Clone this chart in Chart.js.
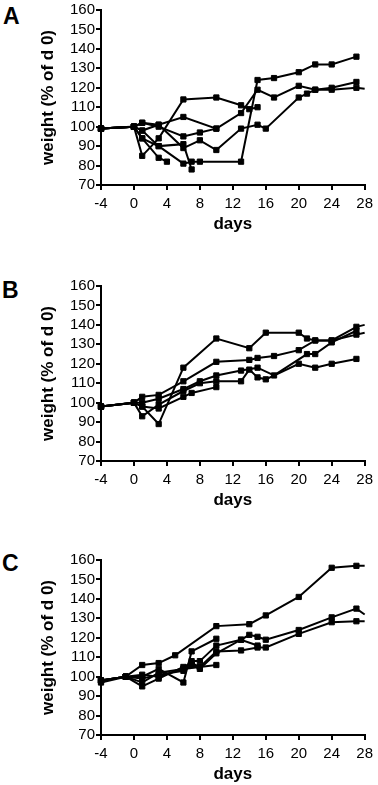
<!DOCTYPE html>
<html>
<head>
<meta charset="utf-8">
<script src="https://cdn.jsdelivr.net/npm/chart.js@4.4.1/dist/chart.umd.min.js"></script>
<style>
  html, body { margin: 0; padding: 0; background: #fff; overflow: hidden; }
  body { width: 378px; height: 785px; position: relative; font-family: "Liberation Sans", Arial, sans-serif; }
  .panel { position: absolute; left: 0; width: 378px; height: 235px; }
  .letter { position: absolute; font-weight: bold; font-size: 23px; line-height: 23px; color: #000; }
</style>
</head>
<body>
<div class="letter" style="left:3px; top:5px;">A</div>
<div class="letter" style="left:2px; top:279px;">B</div>
<div class="letter" style="left:2px; top:552px;">C</div>
<div class="panel" style="top:0px;"><canvas id="cA" width="378" height="235"></canvas></div>
<div class="panel" style="top:276px;"><canvas id="cB" width="378" height="235"></canvas></div>
<div class="panel" style="top:550px;"><canvas id="cC" width="378" height="235"></canvas></div>
<script>
// ---- Tick labels / axis text ----
const xTicks = [-4, 0, 4, 8, 12, 16, 20, 24, 28];
const yTicks = [70, 80, 90, 100, 110, 120, 130, 140, 150, 160];
const xTitle = 'days';
const yTitle = 'weight (% of d 0)';

// ---- Panel A ----
const A1_days = [-4, 0, 1, 3, 6, 7, 8, 13, 15, 17, 20, 22, 24, 27];
const A1_wt   = [99, 100, 98, 90, 81, 82, 82, 82, 124, 125, 128, 132, 132, 136];
const A2_days = [-4, 0, 1, 3, 6, 10, 13, 15, 17, 20, 22, 24, 27];
const A2_wt   = [99, 100, 102, 101, 105, 99, 107, 119, 115, 121, 119, 120, 123];
const A3_days = [-4, 0, 1, 3, 6, 8, 10, 13, 15, 16, 20, 21, 22, 24, 27, 28];
const A3_wt   = [99, 100, 98, 101, 89, 93, 88, 99, 101, 99, 115, 117, 119, 119, 120, 119.5];
const A4_days = [-4, 0, 1, 3, 6, 10, 13, 14, 15];
const A4_wt   = [99, 100, 85, 94, 114, 115, 111, 109, 110];
const A5_days = [-4, 0, 1, 3, 6, 8, 10];
const A5_wt   = [99, 100, 102, 100, 95, 97, 99];
const A6_days = [-4, 0, 1, 3, 6, 7];
const A6_wt   = [99, 100, 94, 90, 91, 78];
const A7_days = [-4, 0, 1, 3, 4];
const A7_wt   = [99, 100, 94, 84, 82];

// ---- Panel B ----
const B1_days = [-4, 0, 1, 3, 6, 10, 14, 16, 20, 21, 22, 24, 27, 28];
const B1_wt   = [98, 100, 98, 89, 118, 133, 128, 136, 136, 133, 132, 132, 135, 136];
const B2_days = [-4, 0, 1, 3, 6, 10, 14, 15, 17, 20, 22, 24, 27, 28];
const B2_wt   = [98, 100, 103, 104, 111, 121, 122, 123, 124, 127, 132, 132, 139, 140];
const B3_days = [-4, 0, 1, 3, 6, 8, 10, 13, 15, 17, 21, 22, 24, 27];
const B3_wt   = [98, 100, 100, 102, 107, 111, 114, 116.5, 118, 114, 125, 125, 131, 137];
const B4_days = [-4, 0, 1, 3, 6, 8, 10, 13, 14, 15, 16, 20, 22, 24, 27];
const B4_wt   = [98, 100, 93, 99, 106, 110, 111, 111, 117, 113, 112, 120, 118, 120, 122.5];
const B5_days = [-4, 0, 1, 3, 6, 7, 10];
const B5_wt   = [98, 100, 98, 97, 103, 105, 108];

// ---- Panel C ----
const C1_days = [-4, -1, 1, 3, 5, 10, 14, 16, 20, 24, 27, 28];
const C1_wt   = [98, 100, 106, 107, 111, 126, 127, 131.5, 141, 156, 157, 157];
const C2_days = [-4, -1, 1, 3, 6, 7, 8, 10, 13, 14, 15, 16, 20, 24, 27, 28];
const C2_wt   = [98, 100, 97, 102, 104, 108, 108, 116, 119, 121.5, 120.5, 119, 124, 130.5, 135, 132];
const C3_days = [-4, -1, 1, 3, 6, 7, 8, 10, 13, 15, 16, 20, 24, 27, 28];
const C3_wt   = [97, 100, 95, 99, 105, 107, 105, 113, 113.5, 115, 115, 122, 128, 128.5, 128.5];
const C4_days = [-4, -1, 1, 3, 6, 7, 10];
const C4_wt   = [98, 100, 100, 104, 97, 113, 119.5];
const C5_days = [-4, -1, 1, 3, 6, 7, 8, 10, 13, 15];
const C5_wt   = [98, 100, 99, 101, 103, 106, 104, 112, 119, 116];
const C6_days = [-4, -1, 1, 3, 6, 8, 10];
const C6_wt   = [98, 100, 101, 100, 104, 105, 106];

const panels = {
  cA: [[A1_days, A1_wt], [A2_days, A2_wt], [A3_days, A3_wt], [A4_days, A4_wt], [A5_days, A5_wt], [A6_days, A6_wt], [A7_days, A7_wt]],
  cB: [[B1_days, B1_wt], [B2_days, B2_wt], [B3_days, B3_wt], [B4_days, B4_wt], [B5_days, B5_wt]],
  cC: [[C1_days, C1_wt], [C2_days, C2_wt], [C3_days, C3_wt], [C4_days, C4_wt], [C5_days, C5_wt], [C6_days, C6_wt]]
};

const FONT = '"Liberation Sans", Arial, Helvetica, sans-serif';
const xMax = xTicks[xTicks.length - 1];

function makeChart(id, series) {
  const datasets = series.map(([d, w]) => ({
    data: d.map((x, i) => ({ x: x, y: w[i] })),
    borderColor: '#000',
    borderWidth: 2,
    backgroundColor: '#000',
    pointStyle: 'rect',
    pointRadius: ctx => (ctx.raw && ctx.raw.x >= xMax) ? 0 : 3.7,
    pointBorderWidth: 1,
    pointBorderColor: '#000',
    pointBackgroundColor: '#000',
    tension: 0,
    fill: false,
    clip: false
  }));
  new Chart(document.getElementById(id), {
    type: 'line',
    data: { datasets },
    options: {
      responsive: false,
      animation: false,
      events: [],
      layout: { padding: { left: 0, right: 12, top: 9, bottom: 0 } },
      plugins: { legend: { display: false }, tooltip: { enabled: false } },
      scales: {
        x: {
          type: 'linear',
          min: xTicks[0], max: xMax,
          afterBuildTicks: s => { s.ticks = xTicks.map(v => ({ value: v })); },
          ticks: { font: { family: FONT, size: 15 }, color: '#000', padding: 5, maxRotation: 0, autoSkip: false },
          grid: { drawOnChartArea: false, drawTicks: true, tickLength: 5, color: '#000', lineWidth: 2 },
          border: { display: true, color: '#000', width: 2 },
          title: { display: true, text: xTitle, color: '#000', font: { family: FONT, size: 17, weight: 'bold' }, padding: { top: 0, bottom: 0 } },
          afterFit: s => { s.height = 50; }
        },
        y: {
          type: 'linear',
          min: yTicks[0], max: yTicks[yTicks.length - 1],
          afterBuildTicks: s => { s.ticks = yTicks.map(v => ({ value: v })); },
          ticks: { font: { family: FONT, size: 15 }, color: '#000', padding: 1, autoSkip: false },
          grid: { drawOnChartArea: false, drawTicks: true, tickLength: 5, color: '#000', lineWidth: 2 },
          border: { display: true, color: '#000', width: 2 },
          title: { display: true, text: yTitle, color: '#000', font: { family: FONT, size: 17, weight: 'bold' }, padding: { top: 38, bottom: 0 } },
          afterFit: s => { s.width = 101; }
        }
      }
    }
  });
}

Object.keys(panels).forEach(id => makeChart(id, panels[id]));
</script>
</body>
</html>
